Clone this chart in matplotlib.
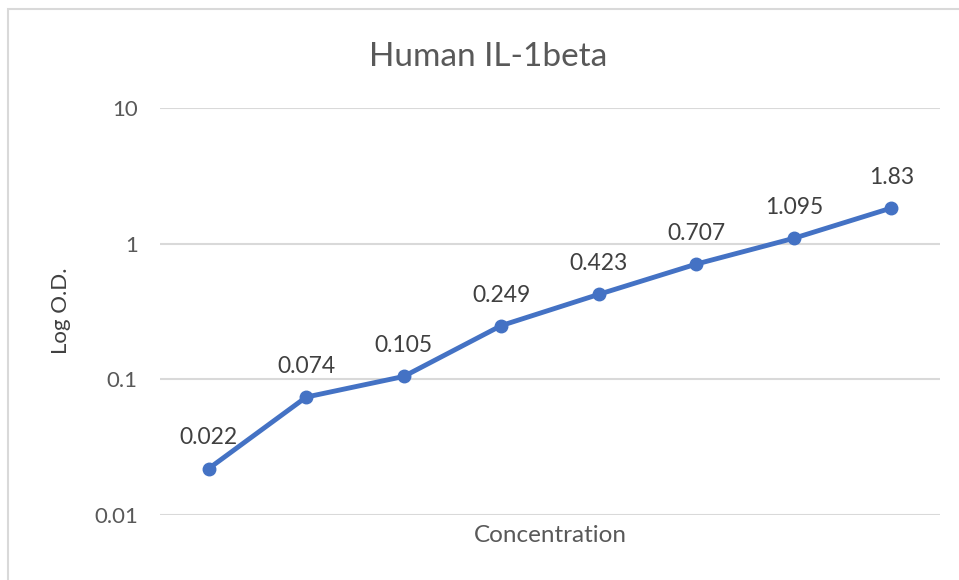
import numpy as np
import matplotlib
matplotlib.use('Agg')
import matplotlib.pyplot as plt
from matplotlib.patches import Rectangle

plt.rcParams['font.family'] = ['Lato', 'DejaVu Sans']

# =============================================
# Data
# =============================================

concentration = ['c1', 'c2', 'c3', 'c4', 'c5', 'c6', 'c7', 'c8']
od = [0.022, 0.074, 0.105, 0.249, 0.423, 0.707, 1.095, 1.83]
od_labels = ['0.022', '0.074', '0.105', '0.249', '0.423', '0.707', '1.095', '1.83']
yticks = [0.01, 0.1, 1, 10]
ytick_labels = ['0.01', '0.1', '1', '10']

# =============================================
# Plot
# =============================================

fig = plt.figure(figsize=(9.59, 5.8), dpi=100)
fig.patches.append(Rectangle((8/959, -0.1), 1.2, 1 - 9/580 + 0.1, transform=fig.transFigure,
                             fill=False, edgecolor='#d9d9d9', linewidth=1.5))

ax = fig.add_axes([160/959, 1 - 515/580, 780/959, (515 - 108)/580])
xx = np.arange(len(od))
ax.plot(xx, od, color='#4472C4', linewidth=3.5, marker='o', markersize=9,
        solid_capstyle='round', zorder=3)

for x, y, t in zip(xx, od, od_labels):
    ax.annotate(t, (x, y), xytext=(0, 22), textcoords='offset points',
                ha='center', va='center', fontsize=16.5, color='#404040')

ax.set_yscale('log')
ax.set_ylim(0.01, 10)
ax.set_xlim(-0.5, len(od) - 0.5)
ax.set_yticks(yticks)
ax.set_yticklabels(ytick_labels)
ax.minorticks_off()
ax.set_xticks([])
ax.tick_params(axis='y', length=0, pad=16, labelsize=16, labelcolor='#595959')
ax.grid(axis='y', color='#d9d9d9', linewidth=1.5)
ax.set_axisbelow(True)
for s in ax.spines.values():
    s.set_visible(False)

# chart title is centred on the whole chart frame, not the plot area
fig.text(488/959, 1 - 66/580, 'Human IL-1beta', fontsize=24, color='#595959',
         ha='center', va='baseline')
ax.set_xlabel('Concentration', fontsize=17.5, color='#595959', labelpad=7)
fig.text(61/959, 1 - 311/580, 'Log O.D.', fontsize=16, color='#404040',
         rotation=90, ha='center', va='center')

fig.savefig('out.png', dpi=100)
